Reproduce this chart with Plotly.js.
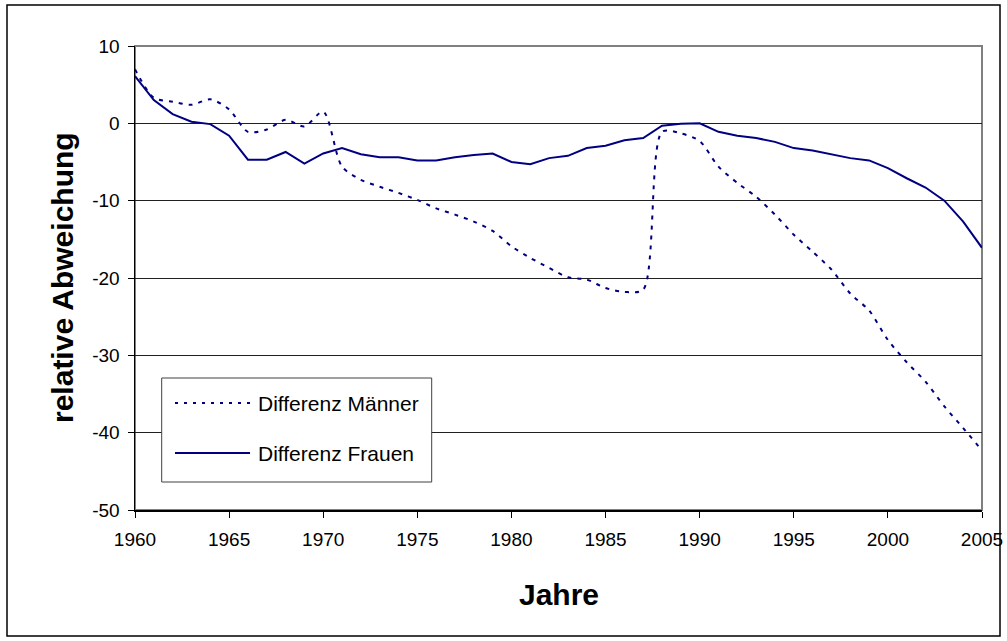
<!DOCTYPE html>
<html>
<head>
<meta charset="utf-8">
<script src="https://cdn.plot.ly/plotly-3.0.1.min.js"></script>
<style>
  html, body { margin: 0; padding: 0; background: #fff; }
  #chart { width: 1007px; height: 641px; }
</style>
</head>
<body>
<div id="chart"></div>
<script>
// ---- data ----
const years = [1960,1961,1962,1963,1964,1965,1966,1967,1968,1969,
               1970,1971,1972,1973,1974,1975,1976,1977,1978,1979,
               1980,1981,1982,1983,1984,1985,1986,1987,1988,1989,
               1990,1991,1992,1993,1994,1995,1996,1997,1998,1999,
               2000,2001,2002,2003,2004,2005];

const diffMaenner = [7.0,3.3,2.8,2.4,3.1,1.8,-1.1,-0.8,0.45,-0.4,
                     1.5,-5.6,-7.3,-8.2,-9.0,-9.9,-11.0,-11.8,-12.7,-13.9,
                     -15.9,-17.4,-18.7,-19.9,-20.2,-21.3,-21.8,-21.5,-1.1,-1.3,
                     -2.3,-5.6,-7.7,-9.5,-11.8,-14.4,-16.6,-18.9,-22.0,-24.2,
                     -28.0,-30.9,-33.4,-36.6,-39.4,-42.3];

const diffFrauen = [6.1,3.0,1.2,0.2,-0.1,-1.6,-4.7,-4.7,-3.7,-5.2,
                    -3.9,-3.2,-4.0,-4.4,-4.4,-4.8,-4.8,-4.4,-4.1,-3.9,
                    -5.0,-5.3,-4.5,-4.2,-3.2,-2.9,-2.2,-1.9,-0.3,-0.05,
                    0.0,-1.1,-1.6,-1.9,-2.4,-3.2,-3.5,-4.0,-4.5,-4.8,
                    -5.8,-7.1,-8.3,-10.0,-12.7,-16.1];

const seriesNames = ["Differenz Männer", "Differenz Frauen"];
const yTickVals = [10, 0, -10, -20, -30, -40, -50];
const yTickText = ["10", "0", "-10", "-20", "-30", "-40", "-50"];
const xTickVals = [1960,1965,1970,1975,1980,1985,1990,1995,2000,2005];
const xTitle = "Jahre";
const yTitle = "relative Abweichung";

// ---- styles ----
const navy = "#000080";
const font = "Liberation Sans, Arial, sans-serif";
const dashStyle = "4px,6px";

const traces = [
  {
    x: years, y: diffMaenner, name: seriesNames[0], type: "scatter", mode: "lines",
    line: { color: navy, width: 2, dash: dashStyle, shape: "spline", smoothing: 0.8 },
    showlegend: false, hoverinfo: "x+y"
  },
  {
    x: years, y: diffFrauen, name: seriesNames[1], type: "scatter", mode: "lines",
    line: { color: navy, width: 2 },
    showlegend: false, hoverinfo: "x+y"
  }
];

// plot area in px: left 135, right 982, top 46, bottom 510
const L = 135, R = 982, T = 46, B = 510, W = 1007, H = 641;
const pw = R - L, ph = B - T;
const px = v => (v - L) / pw;
const py = v => (B - v) / ph;

const shapes = [
  // outer chart border
  { type: "rect", xref: "paper", yref: "paper", x0: px(7), x1: px(1000), y0: py(636), y1: py(5),
    line: { color: "#000", width: 1.5 }, fillcolor: "rgba(0,0,0,0)", layer: "below" },
  // plot area border (grey)
  { type: "rect", xref: "paper", yref: "paper", x0: 0, x1: 1, y0: 0, y1: 1,
    line: { color: "#808080", width: 2 }, fillcolor: "rgba(0,0,0,0)", layer: "below" },
  // legend box
  { type: "rect", xref: "paper", yref: "paper", x0: px(161.7), x1: px(431.7), y0: py(482), y1: py(378),
    line: { color: "#404040", width: 1 }, fillcolor: "#fff", layer: "above" },
  // legend samples
  { type: "line", xref: "paper", yref: "paper", x0: px(175), x1: px(250), y0: py(403), y1: py(403),
    line: { color: navy, width: 2, dash: "3px,6px" }, layer: "above" },
  { type: "line", xref: "paper", yref: "paper", x0: px(175), x1: px(250), y0: py(453), y1: py(453),
    line: { color: navy, width: 2 }, layer: "above" }
];

const annotations = [
  { text: seriesNames[0], xref: "paper", yref: "paper", x: px(256), y: py(403), xanchor: "left", yanchor: "middle",
    showarrow: false, font: { family: font, size: 21, color: "#000" } },
  { text: seriesNames[1], xref: "paper", yref: "paper", x: px(256), y: py(453), xanchor: "left", yanchor: "middle",
    showarrow: false, font: { family: font, size: 21, color: "#000" } },
  { text: "<b>" + xTitle + "</b>", xref: "paper", yref: "paper", x: 0.5, y: py(594), xanchor: "center", yanchor: "middle",
    showarrow: false, font: { family: font, size: 30, color: "#000" } },
  { text: "<b>" + yTitle + "</b>", xref: "paper", yref: "paper", x: px(62), y: 0.5, xanchor: "center", yanchor: "middle",
    textangle: -90, showarrow: false, font: { family: font, size: 30, color: "#000" } }
];

const layout = {
  width: W, height: H,
  margin: { l: L, r: W - R, t: T, b: H - B, pad: 0 },
  paper_bgcolor: "#fff", plot_bgcolor: "#fff",
  showlegend: false,
  font: { family: font, size: 19, color: "#000" },
  xaxis: {
    range: [1960, 2005], tickvals: xTickVals, ticks: "outside", ticklen: 6, tickcolor: "#000", tickwidth: 1,
    showline: true, linecolor: "#000", linewidth: 1.5, showgrid: false, zeroline: false,
    tickfont: { family: font, size: 19, color: "#000" }, ticklabelstandoff: 6, fixedrange: true
  },
  yaxis: {
    range: [-50, 10], tickvals: yTickVals, ticktext: yTickText, ticks: "outside", ticklen: 6, tickcolor: "#000", tickwidth: 1,
    showline: true, linecolor: "#000", linewidth: 1.5, showgrid: true, gridcolor: "#202020", gridwidth: 1, zeroline: false,
    tickfont: { family: font, size: 19, color: "#000" }, ticklabelstandoff: 4, fixedrange: true
  },
  shapes: shapes,
  annotations: annotations
};

Plotly.newPlot("chart", traces, layout, { displayModeBar: false, staticPlot: true });
</script>
</body>
</html>
